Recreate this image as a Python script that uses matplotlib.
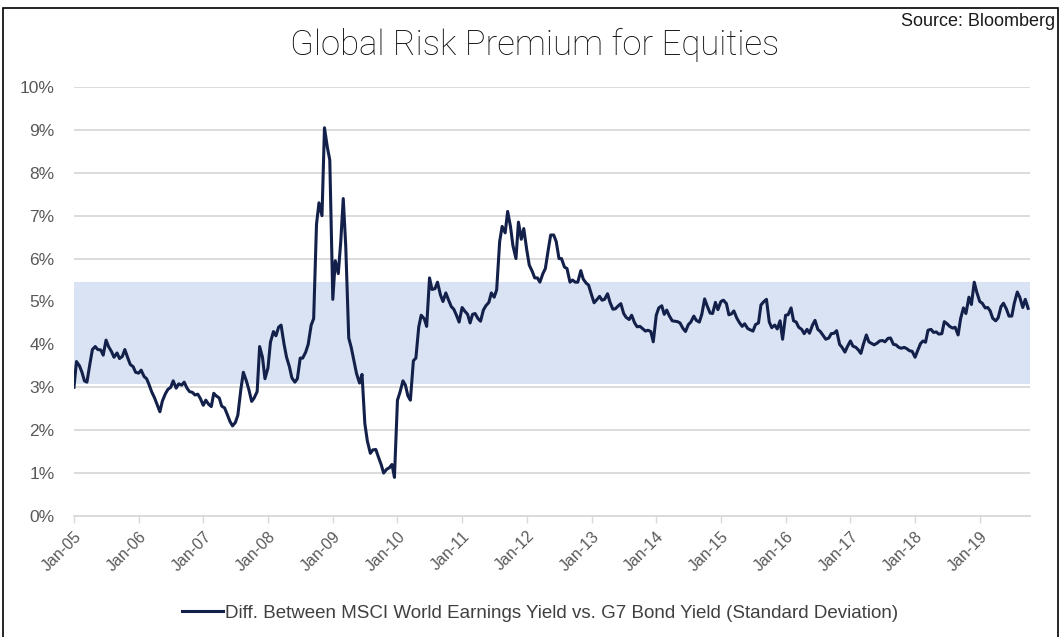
import matplotlib

matplotlib.use("Agg")

import matplotlib.dates as mdates
import matplotlib.pyplot as plt
import pandas as pd
from matplotlib.patches import Rectangle
from matplotlib.ticker import FixedLocator, FuncFormatter

TITLE = "Global Risk Premium for Equities"
SOURCE = "Source: Bloomberg"
SERIES_LABEL = "Diff. Between MSCI World Earnings Yield vs. G7 Bond Yield (Standard Deviation)"

# readings on the 1st and 15th of each month, in %
y2005 = [3.0, 3.6, 3.5, 3.35, 3.15, 3.12, 3.55, 3.88, 3.95, 3.88, 3.87, 3.75,
         4.1, 3.95, 3.83, 3.7, 3.8, 3.67, 3.72, 3.88, 3.68, 3.53, 3.48, 3.35]
y2006 = [3.33, 3.4, 3.25, 3.2, 3.06, 2.9, 2.75, 2.6, 2.43, 2.68, 2.85, 2.95,
         3.0, 3.15, 2.98, 3.08, 3.05, 3.12, 2.98, 2.9, 2.88, 2.82, 2.84, 2.74]
y2007 = [2.58, 2.7, 2.6, 2.55, 2.86, 2.8, 2.75, 2.56, 2.52, 2.38, 2.2, 2.1,
         2.18, 2.35, 2.95, 3.35, 3.15, 2.95, 2.67, 2.75, 2.9, 3.95, 3.7, 3.2]
y2008 = [3.45, 4.05, 4.3, 4.2, 4.4, 4.45, 4.0, 3.7, 3.48, 3.22, 3.12, 3.2,
         3.68, 3.68, 3.82, 4.0, 4.45, 4.6, 6.8, 7.3, 7.0, 9.05, 8.6, 8.3]
y2009 = [5.05, 5.95, 5.65, 6.4, 7.4, 6.3, 4.15, 3.93, 3.6, 3.32, 3.1, 3.3,
         2.15, 1.75, 1.46, 1.54, 1.55, 1.38, 1.2, 1.0, 1.09, 1.12, 1.2, 0.9]
y2010 = [2.7, 2.88, 3.15, 3.05, 2.8, 2.7, 3.62, 3.68, 4.4, 4.68, 4.6, 4.42,
         5.55, 5.28, 5.3, 5.45, 5.15, 5.0, 5.2, 5.05, 4.88, 4.82, 4.67, 4.52]
y2011 = [4.86, 4.78, 4.7, 4.5, 4.7, 4.72, 4.6, 4.54, 4.8, 4.9, 4.98, 5.2,
         5.1, 5.27, 6.4, 6.75, 6.6, 7.1, 6.75, 6.3, 6.0, 6.85, 6.45, 6.7]
y2012 = [6.2, 5.85, 5.7, 5.55, 5.55, 5.45, 5.65, 5.77, 6.2, 6.55, 6.55, 6.4,
         6.0, 6.0, 5.8, 5.77, 5.45, 5.5, 5.45, 5.45, 5.72, 5.52, 5.43, 5.38]
y2013 = [5.15, 4.97, 5.05, 5.12, 5.03, 5.05, 5.18, 4.98, 4.82, 4.83, 4.9, 4.95,
         4.72, 4.63, 4.58, 4.68, 4.5, 4.41, 4.42, 4.37, 4.31, 4.33, 4.3, 4.06]
y2014 = [4.68, 4.85, 4.9, 4.7, 4.8, 4.67, 4.55, 4.54, 4.53, 4.5, 4.37, 4.3,
         4.46, 4.52, 4.66, 4.56, 4.52, 4.7, 5.06, 4.9, 4.73, 4.72, 4.98, 4.81]
y2015 = [5.0, 5.03, 4.95, 4.69, 4.71, 4.78, 4.61, 4.51, 4.42, 4.48, 4.37, 4.34,
         4.31, 4.46, 4.5, 4.92, 5.0, 5.05, 4.52, 4.39, 4.45, 4.36, 4.55, 4.12]
y2016 = [4.68, 4.69, 4.85, 4.55, 4.52, 4.4, 4.35, 4.25, 4.35, 4.26, 4.45, 4.56,
         4.35, 4.3, 4.2, 4.12, 4.15, 4.25, 4.26, 4.32, 4.0, 3.93, 3.82, 3.95]
y2017 = [4.08, 3.96, 3.93, 3.87, 3.79, 4.0, 4.22, 4.06, 4.02, 3.99, 4.03, 4.08,
         4.09, 4.06, 4.14, 4.15, 4.0, 3.99, 3.93, 3.91, 3.93, 3.9, 3.85, 3.84]
y2018 = [3.7, 3.85, 4.02, 4.08, 4.05, 4.33, 4.35, 4.28, 4.29, 4.24, 4.25, 4.53,
         4.48, 4.42, 4.38, 4.4, 4.22, 4.6, 4.85, 4.72, 5.1, 4.93, 5.45, 5.22]
y2019 = [5.0, 4.96, 4.85, 4.86, 4.78, 4.61, 4.55, 4.62, 4.88, 4.96, 4.82, 4.66,
         4.66, 4.96, 5.22, 5.1, 4.86, 5.05, 4.84]

# one standard deviation band around the mean
band_low = 3.07
band_high = 5.45

y_ticks = [0, 1, 2, 3, 4, 5, 6, 7, 8, 9, 10]
x_tick_years = list(range(2005, 2020))

NAVY = "#13204a"
BAND = "#dae3f3"
GRID = "#d9d9d9"
TEXT = "#595959"
FONT = "Liberation Sans"


def build_series():
    values = (y2005 + y2006 + y2007 + y2008 + y2009 + y2010 + y2011 + y2012
              + y2013 + y2014 + y2015 + y2016 + y2017 + y2018 + y2019)
    dates = pd.date_range("2005-01-01", periods=len(values), freq="SMS")
    return pd.Series(values, index=dates)


def main() -> None:
    series = build_series()

    fig = plt.figure(figsize=(10.63, 6.37), dpi=100)
    ax = fig.add_axes([0.0696, 0.19, 0.8994, 0.6734])

    ax.axhspan(band_low, band_high, color=BAND, lw=0, zorder=1)
    ax.plot(series.index, series.values, color=NAVY, lw=2.2, zorder=3,
            solid_joinstyle="round", label=SERIES_LABEL)

    ax.set_ylim(y_ticks[0], y_ticks[-1])
    ax.yaxis.set_major_locator(FixedLocator(y_ticks))
    ax.yaxis.set_major_formatter(FuncFormatter(lambda v, _: f"{v:.0f}%"))
    ax.grid(axis="y", color=GRID, lw=1.3, zorder=0)
    ax.set_axisbelow(True)

    ticks = [pd.Timestamp(f"{y}-01-01") for y in x_tick_years]
    ax.set_xlim(pd.Timestamp("2005-01-01"), pd.Timestamp("2019-10-12"))
    ax.set_xticks(ticks)
    ax.xaxis.set_major_formatter(mdates.DateFormatter("%b-%y"))

    for side in ("top", "right", "left"):
        ax.spines[side].set_visible(False)
    ax.spines["bottom"].set_color(GRID)
    ax.spines["bottom"].set_linewidth(1.3)

    ax.tick_params(axis="y", length=0, pad=14, labelsize=12.5, labelcolor=TEXT)
    ax.tick_params(axis="x", length=5, width=1, color=GRID, pad=4,
                   labelsize=11.5, labelcolor=TEXT)
    for lab in ax.get_xticklabels():
        lab.set_rotation(45)
        lab.set_ha("right")
        lab.set_rotation_mode("anchor")
    for lab in ax.get_xticklabels() + ax.get_yticklabels():
        lab.set_family(FONT)

    fig.text(0.503, 0.929, TITLE, ha="center", va="center", fontsize=25,
             color="#111111", family=["Roboto", FONT], fontweight="light")
    fig.text(0.993, 0.966, SOURCE, ha="right", va="center", fontsize=13,
             color="#1a1a1a", family=FONT)

    leg = fig.legend(loc="center", bbox_to_anchor=(0.508, 0.037), frameon=False,
                     handlelength=2.2, handletextpad=0.1,
                     prop={"family": FONT, "size": 13.5})
    for t in leg.get_texts():
        t.set_color("#404040")

    fig.patches.append(Rectangle((0.003, -0.01), 0.992, 0.997,
                                 transform=fig.transFigure, fill=False,
                                 edgecolor="black", lw=1.2))

    fig.savefig("out.png", dpi=100)
    plt.close(fig)


if __name__ == "__main__":
    main()
